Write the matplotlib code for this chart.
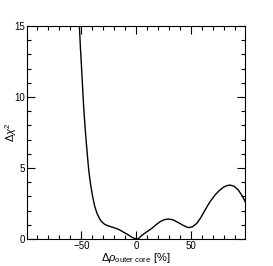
import numpy as np
import matplotlib
matplotlib.use("Agg")
import matplotlib.pyplot as plt
from matplotlib.ticker import MultipleLocator

## Donnees
drho = [-51.8, -50.8, -49.7, -48.8, -47.9, -46.8, -45.7, -44.5, -43.3, -41.6, -39.7,
        -37.8, -35.7, -34.0, -32.7, -31.0, -28.5, -25.2, -20.5, -16.1, -11.5, -7.0,
        -3.5, 0.0, 2.0, 5.0, 9.5, 14.2, 18.0, 21.8, 25.5, 29.4, 33.5, 38.5, 43.0,
        47.6, 51.0, 55.2, 58.8, 62.7, 67.0, 71.8, 75.8, 79.4, 82.5, 85.5, 89.5,
        93.0, 96.5, 99.5]
dchi2 = [15.0, 13.4, 11.9, 10.6, 9.32, 8.1, 6.97, 5.9, 4.86, 3.85, 2.98,
         2.30, 1.80, 1.52, 1.34, 1.18, 1.02, 0.92, 0.80, 0.68, 0.48, 0.28,
         0.10, 0.0, 0.02, 0.25, 0.50, 0.75, 1.00, 1.22, 1.36, 1.41, 1.35, 1.15, 0.95,
         0.80, 0.85, 1.10, 1.50, 2.04, 2.60, 3.10, 3.42, 3.64, 3.76, 3.80, 3.70,
         3.45, 3.05, 2.60]

plt.rcParams['font.family'] = ['Liberation Sans', 'DejaVu Sans']
plt.rcParams['mathtext.fontset'] = 'custom'
plt.rcParams['mathtext.rm'] = 'Liberation Sans'
plt.rcParams['mathtext.it'] = 'Liberation Sans:italic'

fig = plt.figure(figsize=(2.73, 2.66), dpi=100)
ax = fig.add_axes([0.099, 0.1015, 0.80, 0.8005])

ax.plot(drho, dchi2, color='black', lw=1.0)
ax.set_xlim(-99.5, 99.5)
ax.set_ylim(0, 15)

ax.xaxis.set_major_locator(MultipleLocator(50))
ax.xaxis.set_minor_locator(MultipleLocator(10))
ax.yaxis.set_major_locator(MultipleLocator(5))
ax.yaxis.set_minor_locator(MultipleLocator(1))
ax.tick_params(which='both', direction='in', top=True, right=True,
               labelsize=7, width=0.8, pad=1.5)
ax.tick_params(which='major', length=5.8)
ax.tick_params(which='minor', length=2.9)
for s in ax.spines.values():
    s.set_linewidth(0.8)

ax.set_xlabel(r'$\Delta\rho_{\mathrm{outer\ core}}$ [%]', fontsize=8, labelpad=0)
ax.set_ylabel(r'$\Delta\chi^{2}$', fontsize=8)
ax.yaxis.set_label_coords(-0.038, 0.5)

fig.savefig('out.png', dpi=100)
